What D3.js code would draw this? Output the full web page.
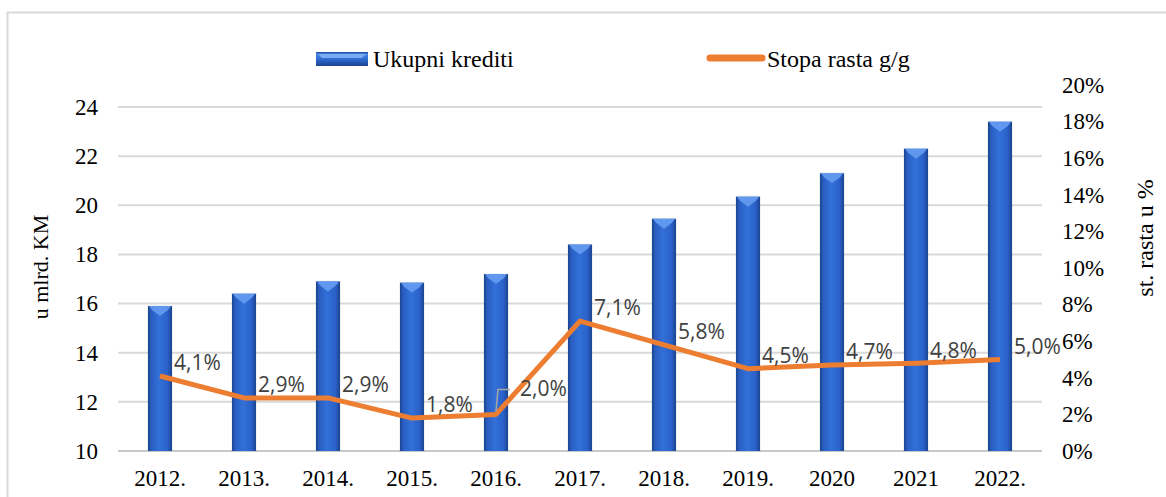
<!DOCTYPE html>
<html>
<head>
<meta charset="utf-8">
<script src="https://cdn.jsdelivr.net/npm/d3@7"></script>
<style>
  body { margin: 0; background: #fff; }
  svg { display: block; }
  .tick-serif { font-family: "Liberation Serif", "Times New Roman", serif; fill: #000; }
  .lbl { font-family: "Open Sans", sans-serif; fill: #404040; }
</style>
</head>
<body>
<script>
// chart data
var years = ['2012.', '2013.', '2014.', '2015.', '2016.', '2017.', '2018.', '2019.', '2020', '2021', '2022.'];
var credits = [15.9, 16.4, 16.9, 16.85, 17.2, 18.4, 19.45, 20.35, 21.3, 22.3, 23.4];
var growth = [4.1, 2.9, 2.9, 1.8, 2.0, 7.1, 5.8, 4.5, 4.7, 4.8, 5.0];
var growthLabels = ['4,1%', '2,9%', '2,9%', '1,8%', '2,0%', '7,1%', '5,8%', '4,5%', '4,7%', '4,8%', '5,0%'];
var leftTicks = [10, 12, 14, 16, 18, 20, 22, 24];
var rightTicks = [0, 2, 4, 6, 8, 10, 12, 14, 16, 18, 20];

var W = 1166, H = 497;
var svg = d3.select('body').append('svg').attr('width', W).attr('height', H);

var defs = svg.append('defs');
var grad = defs.append('linearGradient').attr('id', 'barGrad')
    .attr('x1', '0%').attr('x2', '100%').attr('y1', '0%').attr('y2', '0%');
[['0%', '#1b4491'], ['14%', '#2a5ec2'], ['45%', '#3270d8'], ['80%', '#2b62c9'], ['100%', '#1b4491']]
    .forEach(function(s) { grad.append('stop').attr('offset', s[0]).attr('stop-color', s[1]); });
var gradH = defs.append('linearGradient').attr('id', 'barGradH')
    .attr('x1', '0%').attr('x2', '0%').attr('y1', '0%').attr('y2', '100%');
[['0%', '#1b4491'], ['15%', '#4a86e4'], ['45%', '#3270d8'], ['100%', '#1b4491']]
    .forEach(function(s) { gradH.append('stop').attr('offset', s[0]).attr('stop-color', s[1]); });

// outer border
svg.append('path')
    .attr('d', 'M7.5,' + H + ' V12.5 H' + W)
    .attr('fill', 'none').attr('stroke', '#d9d9d9').attr('stroke-width', 2);

var x = d3.scaleBand().domain(years).range([118, 1042]).paddingInner(0).paddingOuter(0);
var yL = d3.scaleLinear().domain([10, 24]).range([451, 107]);
var yR = d3.scaleLinear().domain([0, 20]).range([451, 85]);

// gridlines
svg.append('g').selectAll('line').data(leftTicks).enter().append('line')
    .attr('x1', 118).attr('x2', 1042)
    .attr('y1', function(d) { return yL(d); })
    .attr('y2', function(d) { return yL(d); })
    .attr('stroke', function(d) { return d === 10 ? '#c8c8c8' : '#d9d9d9'; })
    .attr('stroke-width', 2);

function styleAxis(g) {
    g.select('.domain').remove();
    g.selectAll('text').attr('class', 'tick-serif').style('font-size', '23px')
        .attr('font-family', null).attr('fill', null);
}

// left axis
svg.append('g').attr('transform', 'translate(98,0)')
    .call(d3.axisLeft(yL).tickValues(leftTicks).tickSize(0).tickPadding(0))
    .call(styleAxis);

// right axis
svg.append('g').attr('transform', 'translate(1062,0)')
    .call(d3.axisRight(yR).tickValues(rightTicks).tickSize(0).tickPadding(0)
        .tickFormat(function(d) { return d + '%'; }))
    .call(styleAxis);

// bottom axis
svg.append('g').attr('transform', 'translate(0,451)')
    .call(d3.axisBottom(x).tickSize(0).tickPadding(19))
    .call(styleAxis);

// axis titles
svg.append('text').attr('class', 'tick-serif')
    .attr('transform', 'translate(48,267) rotate(-90)')
    .attr('text-anchor', 'middle').style('font-size', '22px')
    .text('u mlrd. KM');
svg.append('text').attr('class', 'tick-serif')
    .attr('transform', 'translate(1153,238) rotate(-90)')
    .attr('text-anchor', 'middle').style('font-size', '24px')
    .text('st. rasta u %');

// bars
var barW = 24;
var bars = svg.append('g').selectAll('g.bar').data(credits).enter().append('g').attr('class', 'bar');
bars.append('rect')
    .attr('x', function(d, i) { return x(years[i]) + x.bandwidth() / 2 - barW / 2 - 1; })
    .attr('y', function(d) { return yL(d) - 1; })
    .attr('width', barW + 2)
    .attr('height', function(d) { return yL(10) - yL(d) + 1; })
    .attr('fill', '#000').attr('opacity', 0.06);
bars.append('rect')
    .attr('x', function(d, i) { return x(years[i]) + x.bandwidth() / 2 - barW / 2; })
    .attr('y', function(d) { return yL(d); })
    .attr('width', barW)
    .attr('height', function(d) { return yL(10) - yL(d); })
    .attr('fill', 'url(#barGrad)');
bars.append('path')
    .attr('d', function(d, i) {
        var cx = x(years[i]) + x.bandwidth() / 2, t = yL(d);
        return 'M' + (cx - barW / 2 + 1) + ',' + t + ' L' + (cx + barW / 2 - 1) + ',' + t +
            ' L' + (cx + barW / 2 - 4) + ',' + (t + 4) + ' L' + cx + ',' + (t + 10) +
            ' L' + (cx - barW / 2 + 4) + ',' + (t + 4) + 'Z';
    })
    .attr('fill', '#5f98ee');

// growth line
var line = d3.line()
    .x(function(d, i) { return x(years[i]) + x.bandwidth() / 2; })
    .y(function(d) { return yR(d); });
svg.append('path').datum(growth)
    .attr('d', line)
    .attr('fill', 'none').attr('stroke', '#ed7d31').attr('stroke-width', 5)
    .attr('stroke-linejoin', 'round');

// data labels
var specialIdx = 4;
svg.append('g').selectAll('text').data(growth).enter().append('text')
    .attr('class', 'lbl').style('font-size', '21px')
    .attr('x', function(d, i) { return x(years[i]) + x.bandwidth() / 2 + (i === specialIdx ? 24 : 14); })
    .attr('y', function(d, i) { return yR(d) - (i === specialIdx ? 26 : 13); })
    .attr('dy', '0.35em')
    .text(function(d, i) { return growthLabels[i]; });
// leader line for the moved label
(function() {
    var cx = x(years[specialIdx]) + x.bandwidth() / 2, cy = yR(growth[specialIdx]);
    svg.append('path')
        .attr('d', 'M' + cx + ',' + (cy - 3) + ' L' + (cx + 2) + ',' + (cy - 25) + ' L' + (cx + 14) + ',' + (cy - 25))
        .attr('fill', 'none').attr('stroke', '#a6a6a6').attr('stroke-width', 1.5);
})();

// legend
var lg = svg.append('g');
lg.append('rect').attr('x', 316).attr('y', 52).attr('width', 52).attr('height', 14).attr('fill', 'url(#barGradH)');
lg.append('path').attr('d', 'M318,54 L366,54 L362,58 L322,58 Z').attr('fill', '#7aaaf2');
lg.append('text').attr('class', 'tick-serif').attr('x', 373).attr('y', 67)
    .style('font-size', '24px')
    .text('Ukupni krediti');
lg.append('line').attr('x1', 710).attr('x2', 762).attr('y1', 58).attr('y2', 58)
    .attr('stroke', '#ed7d31').attr('stroke-width', 7).attr('stroke-linecap', 'round');
lg.append('text').attr('class', 'tick-serif').attr('x', 767).attr('y', 67)
    .style('font-size', '24px')
    .text('Stopa rasta g/g');
</script>
</body>
</html>
